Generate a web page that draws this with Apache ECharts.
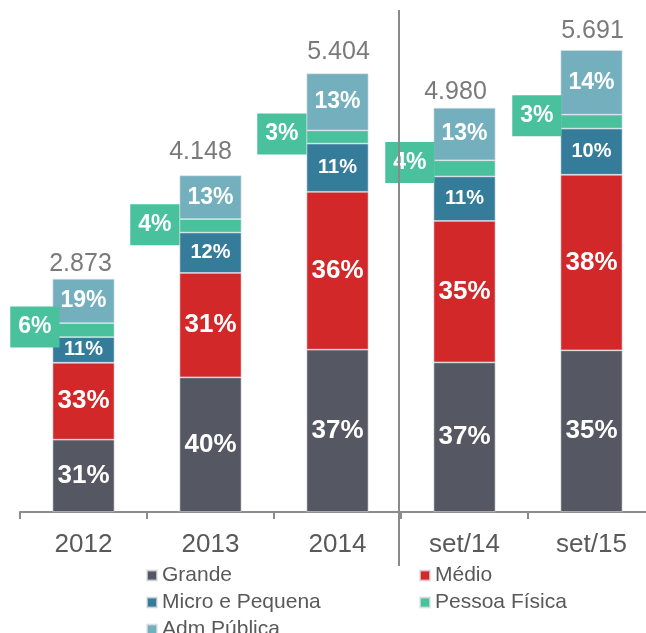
<!DOCTYPE html>
<html>
<head>
<meta charset="utf-8">
<script src="https://cdn.jsdelivr.net/npm/echarts@6/dist/echarts.min.js"></script>
<style>
html,body{margin:0;padding:0;background:#fff;}
#chart{width:646px;height:633px;}
</style>
</head>
<body>
<div id="chart"></div>
<script>
// ---- data ----
const categories = ['2012', '2013', '2014', 'set/14', 'set/15'];
const totals = [2873, 4148, 5404, 4980, 5691];

const grande = [891, 1659, 2000, 1843, 1992];
const medio = [948, 1286, 1945, 1743, 2163];
const micro = [316, 498, 594, 548, 569];
const pessoa = [172, 166, 162, 199, 171];
const adm = [546, 539, 703, 647, 796];

const pctGrande = [31, 40, 37, 37, 35];
const pctMedio = [33, 31, 36, 35, 38];
const pctMicro = [11, 12, 11, 11, 10];
const pctPessoa = [6, 4, 3, 4, 3];
const pctAdm = [19, 13, 13, 13, 14];

const seriesNames = ['Grande', 'Médio', 'Micro e Pequena', 'Pessoa Física', 'Adm Pública'];
// ---------------

// label placement tweaks (styling only)
const totalLabelOffsets = [[-3, 4], [-10, -5], [1, -3], [-9, 3], [1, 0]];
const pessoaLabelOffsets = [[7, -3], [0, -1], [0, -3], [1, -6], [1, -6]];

const FONT = "'Liberation Sans', Arial, Helvetica, sans-serif";
const colors = ['#555862', '#d32829', '#357b9a', '#48c19c', '#74afbd'];

function fmtThousands(v) {
  return String(v).replace(/\B(?=(\d{3})+(?!\d))/g, '.');
}

function barSeries(name, values, pcts, color, fontSize, extraLabel, offsets) {
  return {
    name: name,
    type: 'bar',
    stack: 'total',
    barWidth: 62,
    data: values.map(function (v, i) {
      return offsets ? { value: v, label: { offset: offsets[i] } } : v;
    }),
    itemStyle: { color: color, borderColor: 'rgba(225,225,230,0.7)', borderWidth: 0.8 },
    label: Object.assign({
      show: true,
      position: 'inside',
      color: '#ffffff',
      fontFamily: FONT,
      fontWeight: 'bold',
      fontSize: fontSize,
      formatter: function (p) { return pcts[p.dataIndex] + '%'; }
    }, extraLabel || {}),
    emphasis: { disabled: true }
  };
}

const chart = echarts.init(document.getElementById('chart'), null, { renderer: 'canvas' });

const legendCommon = {
  orient: 'vertical',
  top: 565,
  height: 90,
  padding: 0,
  itemWidth: 10,
  itemHeight: 10,
  itemGap: 6,
  icon: 'rect',
  selectedMode: false,
  textStyle: { color: '#595959', fontSize: 21, fontFamily: FONT, lineHeight: 20 }
};

const option = {
  animation: false,
  backgroundColor: '#ffffff',
  color: colors,
  grid: { left: 20, top: 25, width: 635, bottom: 121, containLabel: false, outerBoundsMode: 'none' },
  xAxis: {
    type: 'category',
    data: categories,
    boundaryGap: true,
    axisLine: { show: true, lineStyle: { color: '#8c8c8c', width: 2 } },
    axisTick: { show: true, length: 7, lineStyle: { color: '#8c8c8c', width: 2 } },
    axisLabel: { color: '#595959', fontSize: 26, fontFamily: FONT, margin: 20 }
  },
  yAxis: {
    type: 'value',
    min: 0,
    max: 6000,
    show: false,
    splitLine: { show: false }
  },
  legend: [
    Object.assign({}, legendCommon, { data: ['Grande', 'Micro e Pequena', 'Adm Pública'], left: 146 }),
    Object.assign({}, legendCommon, { data: ['Médio', 'Pessoa Física'], left: 419 })
  ],
  series: [
    barSeries(seriesNames[0], grande, pctGrande, colors[0], 26),
    barSeries(seriesNames[1], medio, pctMedio, colors[1], 26),
    barSeries(seriesNames[2], micro, pctMicro, colors[2], 20),
    barSeries(seriesNames[3], pessoa, pctPessoa, colors[3], 23, {
      position: 'left',
      distance: 0,
      backgroundColor: colors[3],
      lineHeight: 23,
      padding: [9, 8, 9, 8]
    }, pessoaLabelOffsets),
    barSeries(seriesNames[4], adm, pctAdm, colors[4], 23),
    {
      name: 'Total',
      type: 'scatter',
      data: totals.map(function (v, i) {
        return { value: v, label: { offset: totalLabelOffsets[i] } };
      }),
      symbolSize: 0,
      silent: true,
      label: {
        show: true,
        position: 'top',
        distance: 6,
        color: '#595959',
        fontSize: 25,
        fontFamily: FONT,
        formatter: function (p) { return fmtThousands(totals[p.dataIndex]); }
      },
      z: 10
    }
  ],
  graphic: [
    {
      type: 'line',
      shape: { x1: 399, y1: 10, x2: 399, y2: 566 },
      style: { stroke: '#8a8a8a', lineWidth: 2 },
      z: 100
    }
  ]
};

chart.setOption(option);
</script>
</body>
</html>
